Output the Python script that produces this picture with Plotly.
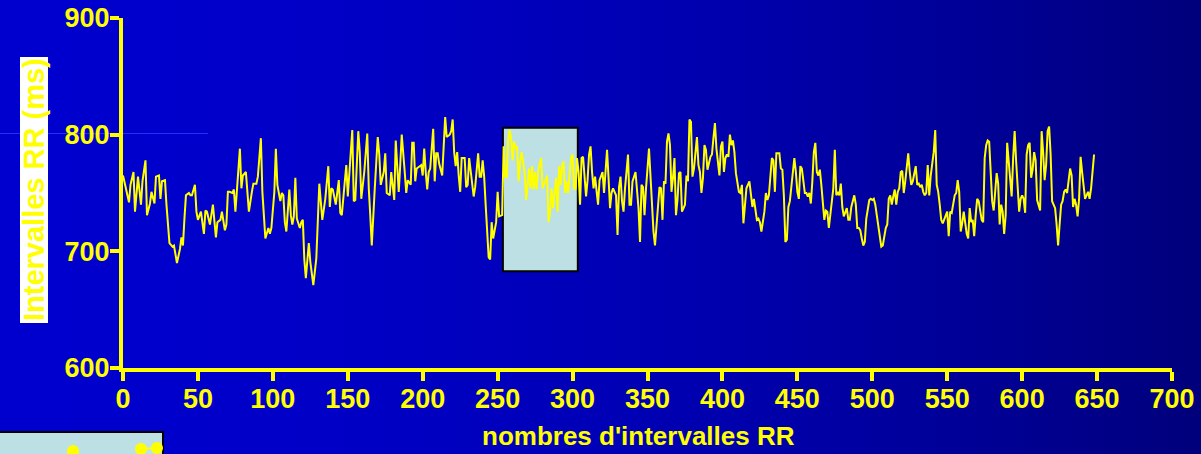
import plotly.graph_objects as go

# ---------------- data ----------------
beat_index = [
    0, 4, 5, 7, 8, 9, 10, 12, 13, 15, 16, 18, 19, 21, 22, 24, 25, 26, 28, 29, 30, 31, 33, 34, 36, 38, 39, 40,
    41, 42, 44, 45, 46, 48, 49, 50, 52, 54, 55, 56, 58, 59, 60, 62, 63, 65, 66, 68, 69, 70, 71, 73, 74, 75,
    76, 78, 79, 80, 82,
    84, 86, 87, 89, 90, 92, 93, 94, 95, 97, 98, 99, 101, 102, 103, 105, 106, 107, 108, 109, 110, 111, 112,
    113, 114, 115, 116, 118, 119, 120, 121, 122, 124, 125, 127, 129, 131, 133, 135, 136, 137, 138, 139, 140,
    142, 144, 145, 146, 148, 149, 150, 151, 152, 153, 154, 155, 157, 158, 159, 161, 163, 164, 165,
    166, 168, 170, 171, 172, 174, 175, 176, 178, 179, 181, 182, 184, 185, 186, 188, 189, 190, 192, 193, 194,
    195, 196, 198, 199, 200, 201, 202, 203, 204, 205, 207, 208, 209, 210, 211, 213, 215, 216, 218, 219, 220,
    221, 222, 223, 224, 225, 226, 228, 229, 230, 231, 232, 234, 235, 236, 237, 238, 239, 240, 241, 242, 243,
    244, 245, 246, 247, 248, 249,
    250, 251, 253, 254, 255, 256, 257, 258, 259, 260, 261, 262, 263, 264, 265, 266, 268, 269, 270, 271, 272,
    273, 274, 275, 276, 277, 279, 280, 282, 283, 284, 285, 286, 287, 289, 290, 291, 292, 293, 294, 295, 296,
    297, 299, 300, 301, 302, 303, 304, 305, 306, 307, 309, 310, 311, 312, 313, 314, 315, 316, 317, 318, 320,
    321, 322, 323, 324, 325, 326, 327, 329, 330, 331, 332,
    333, 334, 335, 337, 338, 339, 340, 341, 342, 344, 345, 346, 347, 348, 349, 351, 352, 353, 354, 355, 356,
    357, 358, 359, 360, 361, 362, 363, 364, 365, 366, 367, 368, 369, 370, 371, 372, 373, 375, 376, 377, 378,
    379, 380, 381, 383, 384, 385, 386, 387, 388, 389, 390, 392, 393, 394, 395, 396, 398, 399, 400, 401, 402,
    403, 404, 405, 406, 407, 408, 409, 411, 412, 413, 414,
    415, 416, 418, 419, 420, 421, 422, 423, 424, 425, 426, 428, 429, 430, 431, 432, 433, 434, 435, 436, 438,
    439, 440, 441, 442, 443, 444, 445, 446, 448, 449, 450, 451, 452, 453, 454, 455, 456, 457, 458, 459, 460,
    461, 462, 463, 464, 465, 466, 468, 469, 470, 471, 472, 474, 475, 476, 477, 478, 479, 480, 481, 482, 483,
    484, 485, 486, 488, 489, 490, 491, 492, 493, 494, 495, 496, 498, 499,
    500, 501, 502, 503, 504, 505, 506, 507, 508, 509, 510, 511, 512, 513, 514, 515, 516, 517, 518, 519, 520,
    521, 522, 524, 525, 526, 527, 528, 529, 530, 531, 532, 533, 534, 535, 536, 537, 538, 539, 541, 542, 543,
    544, 545, 546, 547, 549, 550, 551, 552, 553, 554, 555, 556, 557, 558, 559, 560, 561, 563, 564, 565, 566,
    567, 568, 569, 570, 571, 573, 574, 575, 576, 577, 578, 579, 580, 581,
    582, 583, 584, 585, 586, 587, 588, 589, 590, 591, 592, 593, 594, 595, 596, 598, 599, 600, 601, 602, 603,
    604, 605, 606, 607, 608, 609, 610, 612, 613, 614, 615, 616, 617, 618, 619, 620, 622, 623, 624, 625, 626,
    627, 628, 629, 630, 632, 633, 634, 635, 636, 637, 638, 639, 640, 641, 642, 644, 645, 646, 647, 648,
]

rr_ms = [
    765, 742, 757, 768, 734, 754, 764, 740, 760, 778, 731, 741, 751, 741, 764, 765, 745, 760, 761, 740, 718,
    707, 704, 705, 690, 702, 712, 705, 728, 748, 750, 748, 748, 757, 734, 727, 734, 715, 735, 734, 723, 731,
    740, 712, 725, 727, 734, 718, 723, 751, 751, 750, 753, 734, 751, 788, 754, 765, 768,
    734, 751, 758, 758, 764, 797, 751, 731, 711, 720, 715, 720, 751, 788, 757, 743, 750, 748, 725, 717, 738,
    753, 731, 723, 730, 763, 728, 720, 725, 727, 693, 677, 707, 691, 671, 694, 758, 727, 745, 757, 773, 738,
    754, 753, 740, 761, 733, 731, 757, 774, 747, 768, 785, 804, 743, 744, 803, 785, 745, 768, 801, 754, 731,
    705, 754, 798, 783, 757, 768, 784, 750, 748, 768, 744, 795, 751, 774, 800, 768, 750, 761, 757, 793, 793,
    760, 771, 773, 774, 765, 788, 768, 753, 768, 771, 805, 760, 784, 784, 775, 765, 815, 798, 800, 803, 813,
    785, 773, 785, 765, 751, 780, 780, 755, 757, 780, 768, 747, 755, 771, 784, 764, 764, 778, 764, 740, 711,
    695, 693, 725, 711, 717, 725,
    751, 730, 731, 790, 764, 763, 794, 804, 797, 778, 794, 788, 790, 760, 777, 785, 768, 744, 757, 771, 754,
    773, 753, 768, 753, 768, 780, 754, 761, 765, 725, 734, 754, 737, 763, 734, 773, 757, 774, 777, 750, 760,
    750, 780, 783, 754, 753, 780, 768, 740, 780, 781, 747, 761, 783, 790, 768, 754, 764, 754, 740, 761, 768,
    750, 774, 787, 763, 737, 750, 754, 748, 714, 755, 764,
    743, 734, 754, 783, 740, 740, 760, 765, 768, 737, 708, 757, 755, 731, 754, 788, 763, 731, 717, 705, 725,
    744, 755, 754, 727, 760, 758, 794, 801, 791, 751, 763, 780, 731, 744, 767, 768, 734, 740, 765, 760, 813,
    811, 764, 771, 798, 774, 768, 750, 763, 791, 787, 770, 781, 783, 797, 810, 788, 765, 790, 794, 768, 780,
    783, 781, 800, 791, 795, 785, 767, 751, 750, 757, 724,
    740, 754, 760, 751, 738, 745, 737, 727, 728, 725, 717, 734, 750, 744, 748, 768, 780, 778, 751, 784, 784,
    771, 770, 748, 708, 710, 738, 743, 757, 780, 768, 751, 745, 773, 771, 758, 750, 750, 747, 750, 741, 760,
    785, 793, 768, 765, 770, 757, 727, 735, 734, 720, 731, 754, 787, 748, 751, 748, 758, 738, 730, 734, 737,
    727, 727, 738, 748, 740, 720, 720, 718, 711, 705, 708, 728, 744, 745,
    744, 745, 740, 730, 721, 711, 704, 705, 715, 720, 723, 745, 748, 740, 747, 753, 740, 751, 754, 768, 769,
    750, 760, 784, 768, 757, 760, 768, 773, 757, 758, 755, 757, 751, 748, 750, 774, 748, 765, 785, 804, 757,
    751, 740, 727, 724, 731, 734, 713, 734, 733, 741, 748, 750, 761, 751, 717, 724, 734, 715, 711, 737, 725,
    727, 713, 731, 745, 743, 727, 725, 780, 791, 795, 794, 771, 743, 735,
    748, 767, 758, 723, 740, 734, 715, 731, 793, 777, 760, 747, 780, 803, 777, 734, 745, 748, 745, 733, 783,
    791, 793, 763, 770, 785, 778, 744, 735, 803, 785, 761, 774, 803, 807, 783, 743, 737, 723, 705, 723, 740,
    743, 751, 753, 750, 771, 765, 738, 745, 740, 730, 745, 781, 768, 755, 745, 751, 745, 754, 771, 783,
]

x_ticks = list(range(0, 701, 50))
y_ticks = [600, 700, 800, 900]

highlight_beats = [253.5, 303.5]   # highlighted window of RR intervals
highlight_rr = [683, 806]

inset_x = [73, None, 141, 157]     # partially visible inset at bottom-left
inset_y = [3, None, 5, 6]

# ---------------- layout constants ----------------
W, H = 1201, 454
AX_L, AX_R = 123, 1172   # px of x=0 and x=700
AX_B, AX_T = 368, 18     # px of y=600 and y=900
YELLOW = "#ffff00"
FONT = "Liberation Sans, Arial, sans-serif"


def px_x(p):
    return p / W


def px_y(p):
    return 1 - p / H


fig = go.Figure()

fig.add_trace(go.Scatter(
    x=beat_index, y=rr_ms, mode="lines",
    line=dict(color=YELLOW, width=2),
    xaxis="x", yaxis="y", hoverinfo="skip", showlegend=False,
))

fig.add_trace(go.Scatter(
    x=inset_x, y=inset_y, mode="lines+markers",
    line=dict(color=YELLOW, width=2),
    marker=dict(color=YELLOW, size=12),
    connectgaps=False, cliponaxis=False,
    xaxis="x2", yaxis="y2", hoverinfo="skip", showlegend=False,
))

shapes = []
# horizontal background gradient (bright blue -> navy)
N = 150
for i in range(N):
    t = (i + 0.5) / N
    b = int(round(206 - 82 * t ** 1.8))
    shapes.append(dict(type="rect", xref="paper", yref="paper",
                       x0=i / N, x1=(i + 1) / N + 0.002, y0=0, y1=1,
                       fillcolor=f"rgb(0,0,{b})", line=dict(width=0), layer="below"))

# thin line at top-left
shapes.append(dict(type="line", xref="paper", yref="paper",
                   x0=0, x1=px_x(208), y0=px_y(133.5), y1=px_y(133.5),
                   line=dict(color="#2a2aff", width=1), layer="below"))

# white box behind y title
shapes.append(dict(type="rect", xref="paper", yref="paper",
                   x0=px_x(20), x1=px_x(48), y0=px_y(323), y1=px_y(57),
                   fillcolor="white", line=dict(width=0), layer="below"))

# highlighted window
shapes.append(dict(type="rect", xref="x", yref="y",
                   x0=highlight_beats[0], x1=highlight_beats[1],
                   y0=highlight_rr[0], y1=highlight_rr[1],
                   fillcolor="#bde0e4", line=dict(color="black", width=2), layer="below"))

# inset box (cropped)
shapes.append(dict(type="rect", xref="paper", yref="paper",
                   x0=-0.01, x1=px_x(163), y0=-0.05, y1=px_y(432),
                   fillcolor="#bde0e4", line=dict(color="black", width=2), layer="below"))

annotations = [
    dict(text="<b>Intervalles RR (ms)</b>", xref="paper", yref="paper",
         x=px_x(34), y=px_y(190), textangle=-90, showarrow=False,
         xanchor="center", yanchor="middle",
         font=dict(family=FONT, size=29, color=YELLOW)),
    dict(text="<b>nombres d'intervalles RR</b>", xref="paper", yref="paper",
         x=px_x(638), y=px_y(436), showarrow=False,
         xanchor="center", yanchor="middle",
         font=dict(family=FONT, size=26, color=YELLOW)),
]

axis_common = dict(
    showline=True, linecolor=YELLOW, linewidth=4,
    ticks="outside", ticklen=9, tickwidth=4, tickcolor=YELLOW,
    tickfont=dict(family=FONT, size=27, color=YELLOW, weight="bold"),
    ticklabelstandoff=-5,
    showgrid=False, zeroline=False, automargin=False, fixedrange=True,
)

fig.update_layout(
    template="none",
    width=W, height=H,
    margin=dict(l=0, r=0, t=0, b=0, pad=0),
    paper_bgcolor="rgb(0,0,180)",
    plot_bgcolor="rgba(0,0,0,0)",
    showlegend=False,
    xaxis=dict(domain=[px_x(AX_L), px_x(AX_R)], range=[0, 700],
               tickvals=x_ticks, ticktext=[str(v) for v in x_ticks],
               anchor="y", **axis_common),
    yaxis=dict(domain=[px_y(AX_B), px_y(AX_T)], range=[600, 900],
               tickvals=y_ticks, ticktext=[str(v) for v in y_ticks],
               anchor="x", **axis_common),
    xaxis2=dict(domain=[0, px_x(163)], range=[0, 163], visible=False, fixedrange=True),
    yaxis2=dict(domain=[0, px_y(432)], range=[0, 22], visible=False, fixedrange=True, anchor="x2"),
    shapes=shapes,
    annotations=annotations,
)

fig.write_html("out.html")
